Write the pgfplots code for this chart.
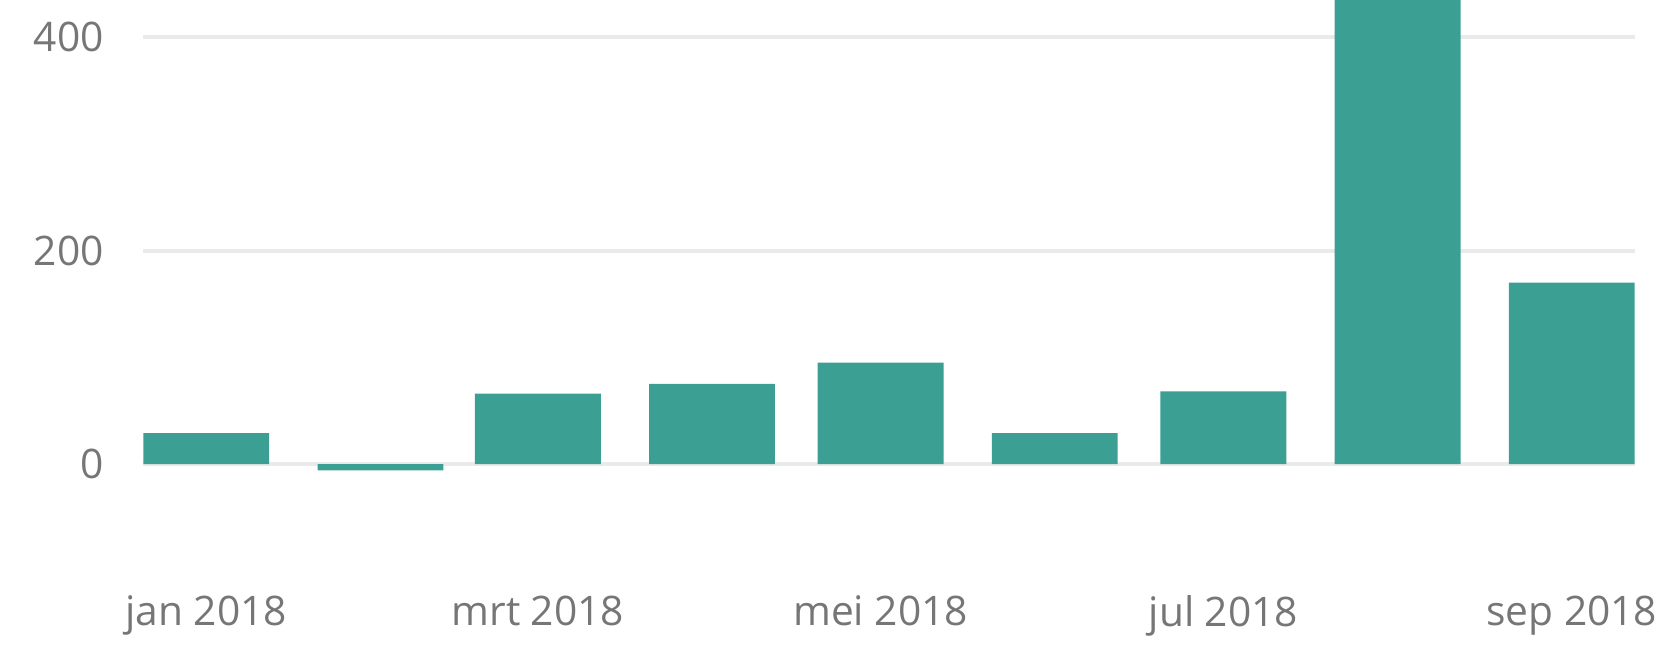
\documentclass[border=0pt]{standalone}
\usepackage{fontspec}
\setmainfont{Open Sans}
\usepackage{pgfplots}
\pgfplotsset{compat=1.18}
\definecolor{barc}{RGB}{59,160,147}
\definecolor{gridc}{RGB}{234,234,234}
\definecolor{txtc}{RGB}{118,118,118}
\begin{document}
\begin{tikzpicture}
\begin{axis}[
  scale only axis,
  width=421.5pt, height=161.25pt,
  xmin=0, xmax=265.5,
  ymin=-100, ymax=434.8,
  axis line style={draw=none},
  ymajorgrids,
  grid style={gridc, line width=1.1pt},
  ytick={0,200,400},
  xtick={11.2,70.2,131.2,192.2,254.2},
  xticklabels={jan 2018,mrt 2018,mei 2018,jul 2018,sep 2018},
  major tick length=0pt,
  tick style={draw=none},
  tick label style={font=\fontsize{11.5}{13}\selectfont, text=txtc},
  /pgf/number format/assume math mode=true,
  xticklabel style={yshift=-3.6pt},
  yticklabel style={xshift=-7.7pt},
  clip=true,
]
\addplot[ybar, bar width=22.4, bar shift=0pt, fill=barc, draw=none] coordinates {
  (11.2,29) (42.2,-6) (70.2,66) (101.2,75) (131.2,95) (162.2,29) (192.2,68) (223.2,480) (254.2,170)
};
\end{axis}
\pgfresetboundingbox
\path[use as bounding box] (current axis.south west) ++(-40.5pt,-20.85pt) rectangle ([shift={(8.4pt,0pt)}]current axis.north east);
\end{tikzpicture}
\end{document}
